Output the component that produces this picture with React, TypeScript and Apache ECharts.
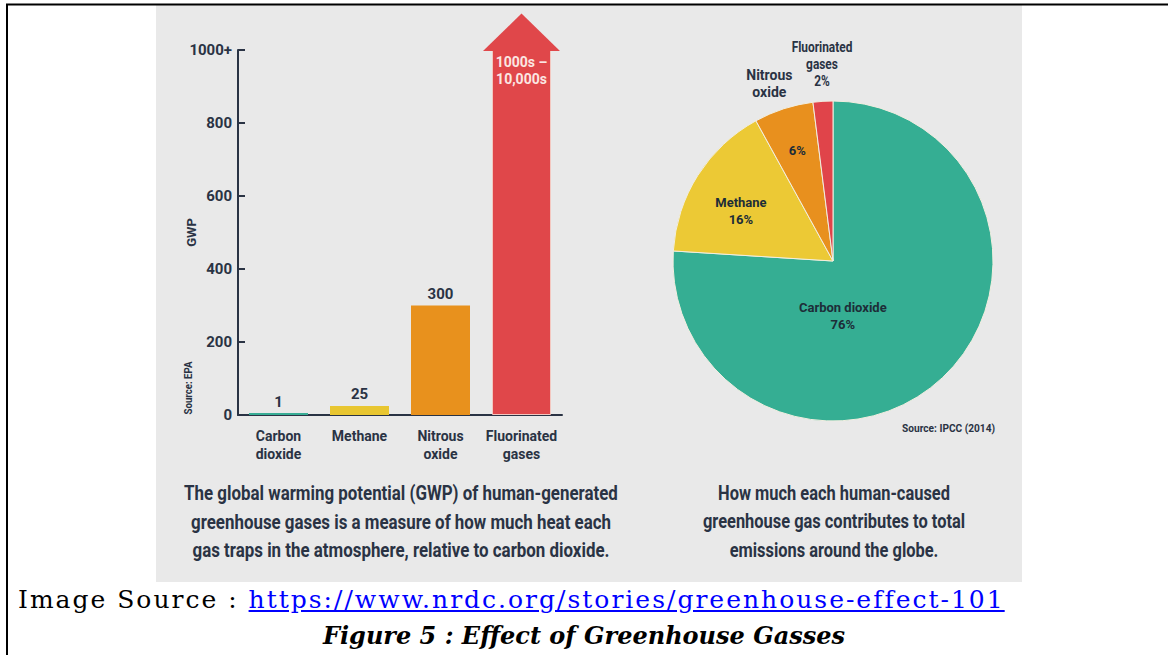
import React, { useEffect, useRef } from "react";
import * as echarts from "echarts";

// ---- data ----
const gases = ["Carbon\ndioxide", "Methane", "Nitrous\noxide", "Fluorinated\ngases"];
const gwpValues = [1, 25, 300, 1000];
const gwpLabels = ["1", "25", "300", "1000s –\n10,000s"];
const gwpArrowTip = 1100;
const yTicks = [0, 200, 400, 600, 800, 1000];
const yTickLabels = ["0", "200", "400", "600", "800", "1000+"];
const barColors = ["#38ad95", "#e8c631", "#e8911d", "#e0474a"];

const pieNames = ["Carbon dioxide", "Methane", "Nitrous oxide", "Fluorinated gases"];
const pieValues = [76, 16, 6, 2];
const pieColors = ["#35ae93", "#ecc935", "#e8901e", "#e0444a"];

const leftCaption = [
  "The global warming potential (GWP) of human-generated",
  "greenhouse gases is a measure of how much heat each",
  "gas traps in the atmosphere, relative to carbon dioxide.",
];
const rightCaption = [
  "How much each human-caused",
  "greenhouse gas contributes to total",
  "emissions around the globe.",
];

const FONT = "Roboto, 'Liberation Sans', sans-serif";
const INK = "#2a3344";

function measure(text: string, font: string): number {
  const c = document.createElement("canvas").getContext("2d");
  if (!c) return text.length * 8;
  c.font = font;
  return c.measureText(text).width;
}

function condensedText(text: string, x: number, y: number, font: string, targetWidth: number, align: string, extra: any = {}) {
  const s = targetWidth / measure(text, font);
  return {
    type: "group", x, y, scaleX: s, ...extra,
    children: [{ type: "text", x: 0, y: 0, style: { text, font, fill: INK, textAlign: align, textVerticalAlign: "middle" } }],
  };
}

export default function App() {
  const ref = useRef<HTMLDivElement>(null);
  useEffect(() => {
    const chart = echarts.init(ref.current!, null, { renderer: "svg" });
    const capFont = `bold 21px ${FONT}`;
    const leftScale = 434 / measure(leftCaption[0], capFont);
    const rightScale = 232 / measure(rightCaption[0], capFont);
    const pieLabelOffsets: any = {
      0: [-47, -6],
      1: [-22, -6],
      2: [-10, -32],
    };
    const option: any = {
      animation: false,
      backgroundColor: "#ffffff",
      graphic: [
        { type: "rect", z: -10, shape: { x: 156, y: 5, width: 866, height: 577 }, style: { fill: "#e9e9e9" } },
        { type: "line", z: 10, shape: { x1: 6, y1: 4.5, x2: 1168, y2: 4.5 }, style: { stroke: "#000", lineWidth: 2 } },
        { type: "line", z: 10, shape: { x1: 7, y1: 4, x2: 7, y2: 655 }, style: { stroke: "#000", lineWidth: 2 } },
        {
          type: "group", x: 188, y: 388, rotation: Math.PI / 2, scaleX: 53 / measure("Source: EPA", `bold 11px ${FONT}`),
          children: [{ type: "text", style: { text: "Source: EPA", font: `bold 11px ${FONT}`, fill: INK, textAlign: "center", textVerticalAlign: "middle" } }],
        },
        condensedText("Source: IPCC (2014)", 995, 428, `bold 11px ${FONT}`, 93, "right"),
        ...leftCaption.map((t, i) => ({
          type: "group", x: 401, y: 493 + i * 28.5, scaleX: leftScale,
          children: [{ type: "text", style: { text: t, font: capFont, fill: INK, textAlign: "center", textVerticalAlign: "middle" } }],
        })),
        ...rightCaption.map((t, i) => ({
          type: "group", x: 834, y: 493 + i * 28.5, scaleX: rightScale,
          children: [{ type: "text", style: { text: t, font: capFont, fill: INK, textAlign: "center", textVerticalAlign: "middle" } }],
        })),
        {
          type: "group", x: 822, y: 64, scaleX: 0.85,
          children: [{
            type: "text",
            style: {
              text: `Fluorinated\ngases\n${pieValues[3]}%`, font: `bold 14px ${FONT}`, lineHeight: 17,
              fill: INK, textAlign: "center", textVerticalAlign: "middle",
            },
          }],
        },
      ],
      grid: { left: 238, top: 50, width: 324, height: 365 },
      xAxis: {
        type: "category",
        data: gases,
        boundaryGap: true,
        axisLine: { lineStyle: { color: INK, width: 2 } },
        axisTick: { inside: true, length: 8, lineStyle: { color: INK, width: 2 } },
        axisLabel: { color: INK, fontFamily: FONT, fontWeight: "bold", fontSize: 14, lineHeight: 18, margin: 12, interval: 0 },
      },
      yAxis: {
        type: "value",
        min: 0,
        max: 1000,
        interval: 200,
        name: "GWP",
        nameLocation: "middle",
        nameRotate: 90,
        nameGap: 40,
        nameMoveOverlap: false,
        nameTextStyle: { color: INK, fontFamily: FONT, fontWeight: "bold", fontSize: 13 },
        splitLine: { show: false },
        axisLine: { show: true, lineStyle: { color: INK, width: 2 } },
        axisTick: { show: true, inside: true, length: 7, lineStyle: { color: INK, width: 2 } },
        axisLabel: {
          color: INK, fontFamily: FONT, fontWeight: "bold", fontSize: 15, margin: 6,
          formatter: (v: number) => yTickLabels[yTicks.indexOf(v)] ?? String(v),
        },
      },
      series: [
        {
          type: "bar",
          data: gwpValues.map((v, i) => ({
            value: v,
            itemStyle: i === 3
              ? { color: barColors[i], borderColor: "#f3c7c0", borderWidth: 1 }
              : { color: barColors[i] },
            label: i === 3
              ? { show: true, position: "insideTop", distance: 3, color: "#fbe6e2", fontSize: 14, lineHeight: 17 }
              : { show: true, position: "top", distance: 4, color: INK, fontSize: 15 },
          })),
          barWidth: 59,
          barMinHeight: 2,
          label: {
            show: true, fontFamily: FONT, fontWeight: "bold",
            formatter: (p: any) => gwpLabels[p.dataIndex],
          },
          z: 2,
        },
        {
          type: "custom",
          clip: false,
          z: 3,
          data: [[3, gwpValues[3], gwpArrowTip]],
          encode: { x: 0, y: 1 },
          renderItem: (params: any, api: any) => {
            const base = api.coord([api.value(0), api.value(1)]);
            const tip = api.coord([api.value(0), api.value(2)]);
            const half = api.size([1, 0])[0] * 0.475;
            return {
              type: "polygon",
              shape: { points: [[base[0] - half, base[1] + 1], [base[0] + half, base[1] + 1], [tip[0], tip[1]]] },
              style: { fill: barColors[3] },
            };
          },
        },
        {
          type: "pie",
          center: [833, 261],
          radius: [0, 160],
          startAngle: 90,
          clockwise: true,
          silent: true,
          itemStyle: { borderColor: "#f1eee0", borderWidth: 1 },
          label: {
            show: true, position: "inside", fontFamily: FONT, fontWeight: "bold", fontSize: 13, lineHeight: 17, color: "#1d2d38",
          },
          labelLine: { show: false },
          data: pieNames.map((n, i) => ({
            name: n,
            value: pieValues[i],
            itemStyle: { color: pieColors[i] },
            label: i === 3
              ? { show: false }
              : {
                  show: true,
                  offset: pieLabelOffsets[i],
                  formatter: i === 2 ? `${pieValues[i]}%` : `${n}\n${pieValues[i]}%`,
                },
          })),
        },
        {
          type: "pie",
          center: [833, 261],
          radius: [0, 160],
          startAngle: 90,
          clockwise: true,
          silent: true,
          z: 5,
          itemStyle: { color: "rgba(0,0,0,0)" },
          label: {
            show: true, position: "inside", fontFamily: FONT, fontWeight: "bold", fontSize: 14, lineHeight: 17, color: INK,
          },
          labelLine: { show: false },
          data: pieNames.map((n, i) => ({
            name: n,
            value: pieValues[i],
            label: i === 2
              ? { show: true, offset: [-38, -99], formatter: "Nitrous\noxide" }
              : { show: false },
          })),
        },
      ],
    };
    chart.setOption(option);
    return () => chart.dispose();
  }, []);

  const serif = "'Palatino Linotype', 'Book Antiqua', 'URW Palladio L', 'DejaVu Serif', 'Liberation Serif', serif";
  return (
    <div style={{ position: "absolute", left: 0, top: 0, width: 1168, height: 655, overflow: "hidden", background: "#fff" }}>
      <div ref={ref} style={{ position: "absolute", left: 0, top: 0, width: 1168, height: 655 }} />
      <div style={{ position: "absolute", left: 18, top: 584, fontFamily: serif, fontSize: 25, letterSpacing: "2px", lineHeight: "32px", whiteSpace: "nowrap", color: "#000" }}>
        Image Source : <a href="https://www.nrdc.org/stories/greenhouse-effect-101" style={{ color: "#0000ff", textDecoration: "underline" }}>https://www.nrdc.org/stories/greenhouse-effect-101</a>
      </div>
      <div style={{ position: "absolute", left: 0, width: 1168, top: 620, textAlign: "center", fontFamily: serif, fontSize: 24, lineHeight: "32px", fontWeight: "bold", fontStyle: "italic", whiteSpace: "nowrap", color: "#000" }}>
        Figure 5 : Effect of Greenhouse Gasses
      </div>
    </div>
  );
}
